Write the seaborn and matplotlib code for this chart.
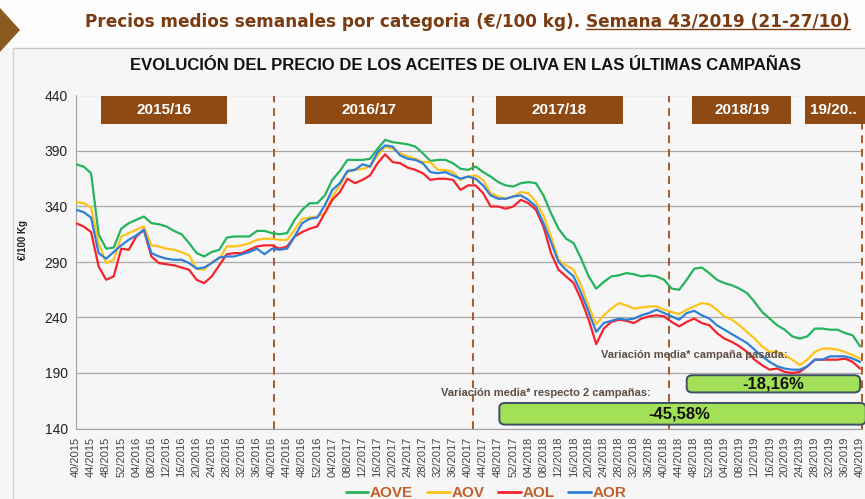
import matplotlib.pyplot as plt
import matplotlib.patches as mpatches
from matplotlib.lines import Line2D
import numpy as np
import pandas as pd
import seaborn as sns

# indice de semana (cada 2 semanas) desde 40/2015 hasta 40/2019
semanas = list(range(0, 209, 2))

aove = [378, 376, 370, 315, 302, 303, 320, 325, 328, 331, 325, 324, 322, 318, 315, 307, 298, 295, 299,
        301, 312, 313, 313, 313, 318, 318, 316, 315, 316, 328, 337, 343, 343, 350, 364, 372, 382,
        382, 382, 383, 392, 400, 398, 397, 396, 394, 388, 381, 382, 382, 379, 374, 373, 376, 371,
        367, 362, 359, 358, 361, 362, 361, 350, 334, 320, 311, 307, 293, 277,
        266, 272, 277, 278, 280, 279, 277, 278, 277, 274, 266, 265, 274, 284, 285, 280, 274, 271,
        269, 266, 262, 254, 245, 239, 233, 229, 223, 221, 223, 230, 230, 229, 229, 226, 224, 214]
aov = [344, 343, 339, 307, 289, 292, 313, 316, 319, 322, 305, 304, 302, 301, 299, 296, 284, 283, 290,
       293, 304, 304, 305, 307, 310, 311, 311, 310, 310, 319, 329, 330, 331, 334, 349, 359, 371,
       373, 374, 376, 386, 394, 392, 388, 385, 383, 380, 380, 373, 373, 371, 364, 367, 368, 364,
       352, 349, 347, 349, 353, 352, 344, 332, 313, 292, 287, 283, 269, 250,
       234, 242, 248, 253, 251, 248, 249, 250, 250, 247, 245, 243, 247, 250, 253, 252, 247, 241,
       238, 233, 227, 221, 214, 209, 209, 206, 202, 197, 202, 209, 212, 212, 211, 209, 206, 203]
aol = [325, 322, 317, 286, 274, 277, 302, 301, 313, 319, 295, 289, 288, 287, 285, 283, 274, 271, 277,
       287, 297, 298, 298, 301, 304, 305, 305, 302, 304, 313, 317, 320, 322, 334, 346, 353, 365,
       361, 364, 368, 379, 387, 380, 379, 375, 373, 370, 364, 365, 365, 364, 355, 359, 359, 352,
       340, 340, 338, 340, 346, 343, 337, 322, 298, 283, 277, 271, 256, 238,
       216, 230, 236, 238, 237, 235, 239, 241, 242, 241, 236, 232, 236, 239, 235, 233, 226, 221,
       218, 214, 209, 202, 197, 193, 194, 191, 190, 191, 196, 202, 202, 202, 202, 203, 200, 194]
aor = [337, 335, 330, 298, 293, 299, 305, 310, 314, 319, 298, 295, 293, 292, 292, 289, 284, 285, 289,
       294, 295, 295, 297, 299, 302, 297, 302, 301, 302, 313, 325, 329, 330, 341, 355, 361, 372,
       373, 378, 376, 389, 395, 394, 386, 383, 382, 379, 371, 370, 371, 368, 365, 367, 365, 359,
       350, 347, 347, 349, 350, 346, 340, 325, 308, 290, 283, 277, 262, 245,
       227, 235, 237, 239, 238, 239, 242, 244, 247, 244, 241, 238, 244, 246, 242, 239, 233, 229,
       225, 221, 217, 211, 205, 200, 196, 194, 193, 193, 196, 202, 202, 205, 205, 205, 203, 200]

categorias = ["AOVE", "AOV", "AOL", "AOR"]
colores = ["#25b35b", "#ffc21a", "#f5232d", "#2f7fd6"]

etiquetas_semana = [
    "40/2015", "44/2015", "48/2015", "52/2015",
    "04/2016", "08/2016", "12/2016", "16/2016", "20/2016", "24/2016", "28/2016", "32/2016", "36/2016",
    "40/2016", "44/2016", "48/2016", "52/2016",
    "04/2017", "08/2017", "12/2017", "16/2017", "20/2017", "24/2017", "28/2017", "32/2017", "36/2017",
    "40/2017", "44/2017", "48/2017", "52/2017",
    "04/2018", "08/2018", "12/2018", "16/2018", "20/2018", "24/2018", "28/2018", "32/2018", "36/2018",
    "40/2018", "44/2018", "48/2018", "52/2018",
    "04/2019", "08/2019", "12/2019", "16/2019", "20/2019", "24/2019", "28/2019", "32/2019", "36/2019",
    "40/2019"]

campanas = ["2015/16", "2016/17", "2017/18", "2018/19", "19/20.."]
variaciones = ["-18,16%", "-45,58%"]

df = pd.DataFrame({
    "semana": semanas * 4,
    "precio": aove + aov + aol + aor,
    "categoria": sum([[c] * len(semanas) for c in categorias], []),
})

sns.set_style("white")
plt.rcParams["font.family"] = ["Liberation Sans", "DejaVu Sans"]

fig = plt.figure(figsize=(8.65, 4.99), dpi=100)
fig.patch.set_facecolor("#f6f6f6")

# cabecera
fig.patches.append(mpatches.Rectangle((0, 1 - 48 / 499), 1, 48 / 499, transform=fig.transFigure,
                                      facecolor="#fdfdfd", edgecolor="none", zorder=0))
fig.patches.append(mpatches.Polygon([(0, 1 - 8 / 499), (20 / 865, 1 - 30 / 499), (0, 1 - 52 / 499)],
                                    closed=True, transform=fig.transFigure, facecolor="#8b5a1e",
                                    edgecolor="none"))
fig.lines.append(Line2D([13 / 865, 1], [1 - 48 / 499, 1 - 48 / 499], transform=fig.transFigure,
                        color="#c8c8c8", lw=1))
fig.lines.append(Line2D([13 / 865, 13 / 865], [0, 1 - 48 / 499], transform=fig.transFigure,
                        color="#d0d0d0", lw=1))

ax = fig.add_axes([76 / 865, 1 - 428.5 / 499, 786 / 865, 333 / 499])
ax.set_facecolor("#f6f6f6")

sns.lineplot(data=df, x="semana", y="precio", hue="categoria", hue_order=categorias,
             palette=colores, linewidth=1.6, legend=False, ax=ax, zorder=3)

ax.set_xlim(0, 208.5)
ax.set_ylim(140, 440)
ax.set_yticks(range(140, 441, 50))
ax.yaxis.grid(True, color="#a8a8a8", lw=0.9)
ax.set_axisbelow(True)
ax.set_xticks(range(0, 209, 4))
ax.set_xticklabels(etiquetas_semana, rotation=90, fontsize=8, color="#444444")
ax.tick_params(axis="y", labelsize=10, colors="#222222", length=0, pad=6)
ax.tick_params(axis="x", length=4, width=0.8, color="#999999", pad=2)
for s in ["top", "right"]:
    ax.spines[s].set_visible(False)
ax.spines["left"].set_color("#a0a0a0")
ax.spines["bottom"].set_color("#a0a0a0")
ax.set_xlabel("")
ax.set_ylabel("€/100 Kg", fontsize=7, fontweight="bold", color="#222222")
ax.yaxis.set_label_coords(-0.061, 0.566)

# cambios de campaña
for xv in [52.6, 105.2, 157.2, 208.4]:
    ax.axvline(xv, color="#a65a2a", lw=1.4, ls=(0, (4, 3)), zorder=2, clip_on=False)

# cajas de campaña
cajas = [(6.6, 40.0), (60.8, 94.4), (111.4, 145.0), (163.5, 189.7), (193.4, 212.0)]
for nombre, (x0, x1) in zip(campanas, cajas):
    ax.add_patch(mpatches.Rectangle((x0, 414.5), x1 - x0, 25.5, facecolor="#8f4a14",
                                    edgecolor="none", zorder=4, clip_on=False))
    ax.text(min((x0 + x1) / 2, 201), 427, nombre, ha="center", va="center", color="white",
            fontsize=11, fontweight="bold", zorder=5)

# variaciones
ax.text(188.9, 206, "Variación media* campaña pasada:", ha="right", va="center", fontsize=8,
        fontweight="bold", color="#5e4d43", zorder=6)
ax.text(152.6, 172, "Variación media* respecto 2 campañas:", ha="right", va="center", fontsize=8,
        fontweight="bold", color="#5e4d43", zorder=6)
for (x0, x1, y0, y1), txt in zip([(162.0, 208.0, 172.5, 188.0), (112.3, 209.5, 143.5, 163.0)], variaciones):
    ax.add_patch(mpatches.FancyBboxPatch((x0, y0), x1 - x0, y1 - y0,
                                         boxstyle="round,pad=0,rounding_size=1.5",
                                         facecolor="#a2e057", edgecolor="#3f5064", lw=1.4,
                                         zorder=6, clip_on=False, mutation_aspect=3))
    ax.text((x0 + min(x1, 208)) / 2, (y0 + y1) / 2, txt, ha="center", va="center", fontsize=12,
            fontweight="bold", color="#111111", zorder=7)

# titulos
fig.text(465 / 865, 1 - 66 / 499, "EVOLUCIÓN DEL PRECIO DE LOS ACEITES DE OLIVA EN LAS ÚLTIMAS CAMPAÑAS",
         ha="center", va="center", fontsize=12, fontweight="bold", color="#111111")
cab = ["DejaVu Sans"]
t1 = fig.text(85 / 865, 1 - 22 / 499, "Precios medios semanales por categoria (€/100 kg). ",
              ha="left", va="center", fontsize=12.2, fontweight="bold", color="#7a3c12", family=cab)
fig.canvas.draw()
r = fig.canvas.get_renderer()
bb = t1.get_window_extent(r).transformed(fig.transFigure.inverted())
t2 = fig.text(bb.x1, 1 - 22 / 499, "Semana 43/2019 (21-27/10)", ha="left", va="center",
              fontsize=12.2, fontweight="bold", color="#7a3c12", family=cab)
fig.canvas.draw()
bb2 = t2.get_window_extent(r).transformed(fig.transFigure.inverted())
fig.lines.append(Line2D([bb2.x0, bb2.x1], [bb2.y0 + 0.004, bb2.y0 + 0.004], transform=fig.transFigure,
                        color="#7a3c12", lw=1))

# leyenda
handles = [Line2D([0], [0], color=c, lw=2) for c in colores]
leg = fig.legend(handles, categorias, loc="center", bbox_to_anchor=(0.562, 0.012), ncol=4,
                 frameon=False, handlelength=1.5, handletextpad=0.1, columnspacing=0.9,
                 prop={"weight": "bold", "size": 11})
for t in leg.get_texts():
    t.set_color("#c0612a")

fig.savefig("out.png", dpi=100, facecolor=fig.get_facecolor())
